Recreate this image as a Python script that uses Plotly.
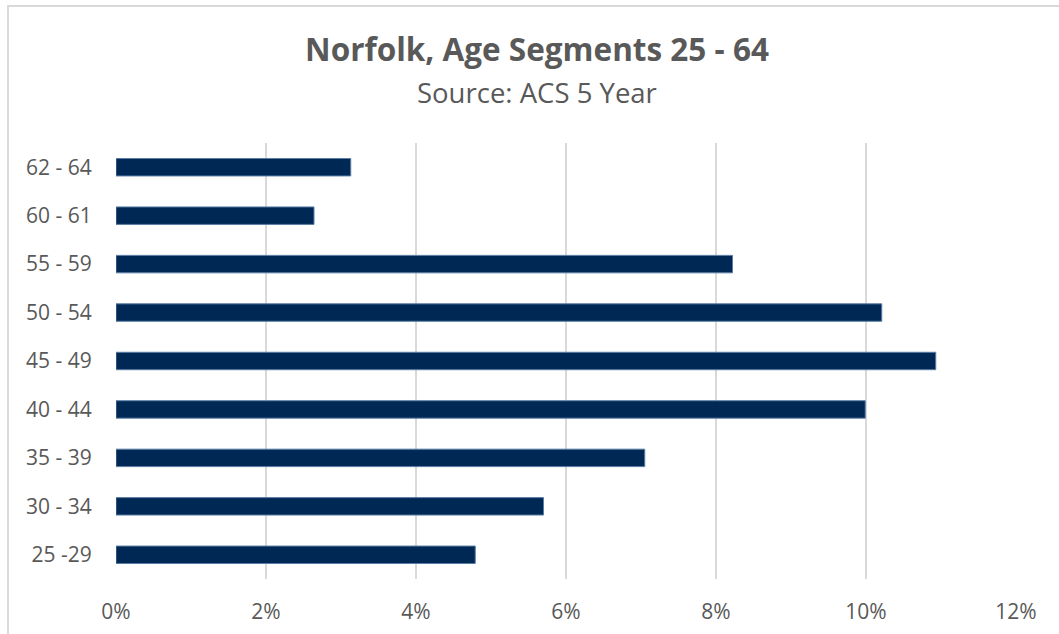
import plotly.graph_objects as go

categories = ["25 -29", "30 - 34", "35 - 39", "40 - 44", "45 - 49", "50 - 54", "55 - 59", "60 - 61", "62 - 64"]
values = [0.0479, 0.0570, 0.0705, 0.0999, 0.1093, 0.1021, 0.0822, 0.0264, 0.0313]
x_ticks = [0, 0.02, 0.04, 0.06, 0.08, 0.10, 0.12]
x_tick_labels = ["0%", "2%", "4%", "6%", "8%", "10%", "12%"]

W, H = 1059, 634
L, R, T, B = 116, 43, 143, 55
pw = W - L - R
ph = H - T - B

def px(x):
    return (x - L) / pw

def py(y):
    return (H - B - y) / ph

FONT = "Open Sans, sans-serif"

fig = go.Figure(go.Bar(
    y=categories, x=values, orientation="h",
    marker=dict(color="#002855", line=dict(color="#5a7ea6", width=1)),
    width=0.36,
))

fig.update_layout(
    width=W, height=H,
    margin=dict(l=L, r=R, t=T, b=B),
    paper_bgcolor="white", plot_bgcolor="white",
    showlegend=False,
    font=dict(family=FONT, color="#595959"),
    title=dict(
        text="<b>Norfolk, Age Segments 25 - 64</b>",
        x=537 / W, xanchor="center", y=1 - 50 / H, yanchor="middle",
        font=dict(size=31.5, color="#595959", family=FONT),
    ),
    annotations=[dict(
        text="Source: ACS 5 Year", xref="paper", yref="paper",
        x=px(537), y=py(92), xanchor="center", yanchor="middle",
        showarrow=False, font=dict(size=27.5, color="#595959", family=FONT),
    )],
    xaxis=dict(
        range=[0, 0.12], tickvals=x_ticks, ticktext=x_tick_labels,
        showgrid=True, gridcolor="#d9d9d9", gridwidth=2,
        zeroline=False, showline=False, automargin=False,
        ticks="outside", ticklen=14, tickcolor="rgba(0,0,0,0)",
        tickfont=dict(size=21, color="#595959"),
    ),
    yaxis=dict(
        categoryorder="array", categoryarray=categories,
        range=[-0.5, len(categories) - 0.5],
        showgrid=False, zeroline=False, showline=False, automargin=False,
        ticks="outside", ticklen=19, tickcolor="rgba(0,0,0,0)",
        tickfont=dict(size=21, color="#595959"),
    ),
    shapes=[
        dict(type="line", xref="paper", yref="paper",
             x0=px(8), x1=px(8), y0=py(H + 5), y1=py(6),
             line=dict(color="#d9d9d9", width=2)),
        dict(type="line", xref="paper", yref="paper",
             x0=px(7), x1=px(W + 5), y0=py(6), y1=py(6),
             line=dict(color="#d9d9d9", width=2)),
    ],
)

fig.write_html(
    "out.html",
    config={"displayModeBar": False},
    post_script="document.body.style.margin='0px';document.body.style.overflow='hidden';",
)
